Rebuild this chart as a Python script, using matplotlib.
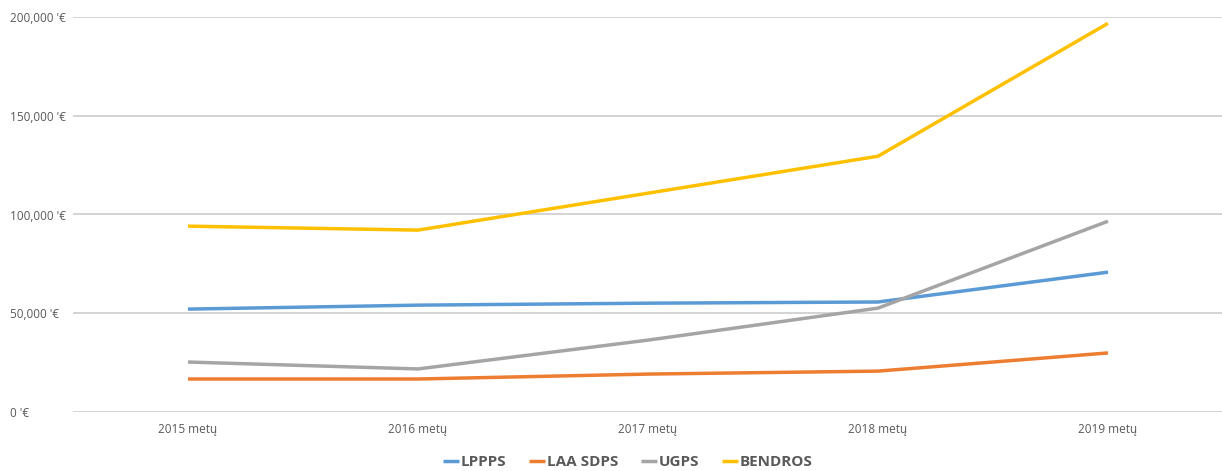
import matplotlib.pyplot as plt
from matplotlib.ticker import FuncFormatter

years = ["2015 metų", "2016 metų", "2017 metų", "2018 metų", "2019 metų"]
lppps = [52100, 54100, 55100, 55700, 70800]
laa_sdps = [16700, 16700, 19200, 20700, 29900]
ugps = [25300, 21800, 36400, 52600, 96600]
bendros = [94100, 92100, 110800, 129500, 196800]

names = ["LPPPS", "LAA SDPS", "UGPS", "BENDROS"]
colors = ["#5B9BD5", "#ED7D31", "#A5A5A5", "#FFC000"]

plt.rcParams['font.family'] = ['Open Sans', 'DejaVu Sans']

fig = plt.figure(figsize=(12.22, 4.71), dpi=100)
ax = fig.add_axes([73 / 1222, 1 - 412 / 471, 1150 / 1222, 395 / 471])

x = range(len(years))
for vals, name, col in zip([lppps, laa_sdps, ugps, bendros], names, colors):
    ax.plot(x, vals, color=col, lw=2.5, label=name, solid_capstyle='butt')

ax.set_xlim(-0.5, len(years) - 0.5)
ax.set_ylim(0, 200000)
ax.set_yticks([0, 50000, 100000, 150000, 200000])
ax.yaxis.set_major_formatter(FuncFormatter(lambda v, p: f"{int(v):,} '€"))
ax.set_xticks(list(x))
ax.set_xticklabels(years)

ax.grid(axis='y', color='#d0d0d0', lw=1.3)
ax.set_axisbelow(True)
for s in ax.spines.values():
    s.set_visible(False)
ax.tick_params(axis='both', length=0, labelsize=8.5, labelcolor='#595959')
ax.tick_params(axis='y', pad=45)
ax.tick_params(axis='x', pad=8)
for lab in ax.get_yticklabels():
    lab.set_ha('left')

leg = fig.legend(loc='center', bbox_to_anchor=(628 / 1222, 9 / 471), ncol=4, frameon=False,
                 handlelength=1.0, handletextpad=0.15, columnspacing=1.5,
                 prop={'size': 11, 'weight': 'bold'})
for t in leg.get_texts():
    t.set_color('#595959')

fig.savefig("out.png", dpi=100)
